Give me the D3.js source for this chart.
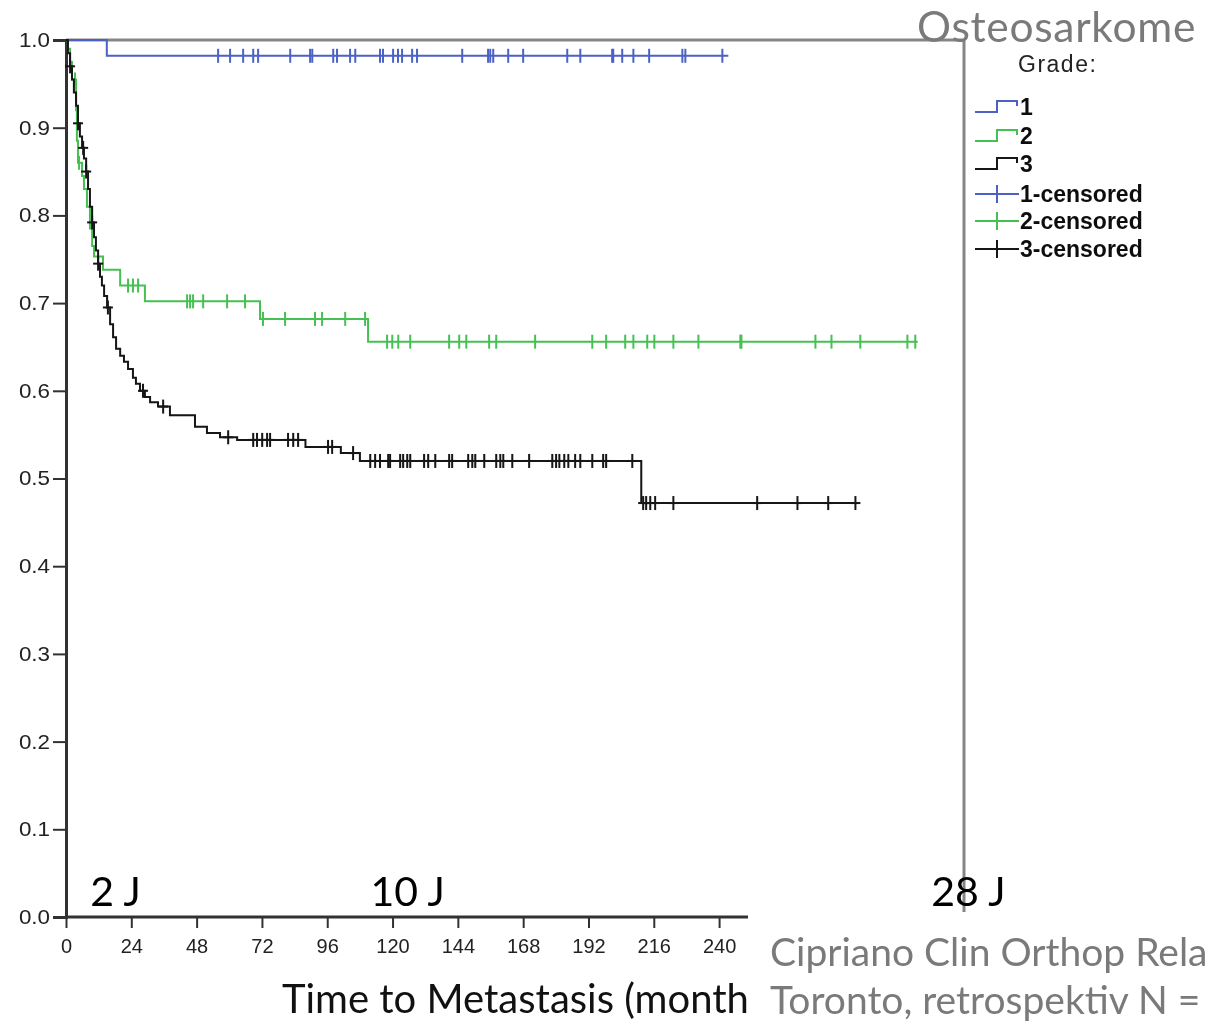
<!DOCTYPE html>
<html>
<head>
<meta charset="utf-8">
<script src="https://cdn.jsdelivr.net/npm/d3@7"></script>
<style>
  body { margin: 0; background: #fff; }
  svg { display: block; }
</style>
</head>
<body>
<svg id="chart" width="1207" height="1022"></svg>
<script>
// Kaplan–Meier curves: time to metastasis (months) by tumour grade.
// Each event list holds [month, survival after the drop].
const grade1Events = [[0, 1], [15, 0.982]];
const grade1Censored = [55.9, 60.3, 65.1, 68.8, 70.6, 82.4, 89.7, 90.5, 98.2, 99.6, 104.4, 106.3,
  115.4, 116.5, 120.2, 122, 123.5, 127.2, 129, 145.6, 155.1, 155.9, 157, 162.5, 168, 184.2, 189,
  200.7, 201.1, 204.4, 208.5, 214.3, 226.5, 227.6, 241.2];
const grade1LastTime = 243.4;

const grade2Events = [[0, 1], [0.7, 0.99], [1.5, 0.975], [2.2, 0.955], [3.7, 0.92], [4, 0.885],
  [4.4, 0.86], [5.9, 0.845], [6.6, 0.83], [7.7, 0.81], [8.8, 0.785], [9.6, 0.765], [10.3, 0.753],
  [13.6, 0.738], [19.9, 0.72], [29, 0.702], [71.3, 0.682], [111, 0.656]];
const grade2Censored = [3.3, 4.8, 22.8, 24.6, 26.5, 44.5, 45.6, 46.7, 50.4, 59.2, 65.8, 72.4, 80.5,
  91.5, 94.1, 102.6, 109.9, 118, 119.9, 122.1, 126.5, 140.8, 144.5, 147.1, 155.5, 158.1, 172.4,
  193.4, 198.5, 205.5, 208.5, 213.6, 216.2, 223.2, 232.4, 247.8, 248.2, 275.4, 281.3, 291.9,
  309.2, 312.1];
const grade2LastTime = 313;

const grade3Events = [[0, 1], [0.7, 0.985], [1.5, 0.97], [2.2, 0.955], [2.9, 0.94], [3.7, 0.925],
  [4.4, 0.905], [5.1, 0.89], [5.9, 0.877], [6.6, 0.865], [7.4, 0.85], [8.1, 0.83], [8.8, 0.81],
  [9.6, 0.792], [10.3, 0.775], [11, 0.76], [11.8, 0.745], [12.5, 0.73], [13.2, 0.72], [14, 0.708],
  [15.1, 0.695], [16.2, 0.676], [17.3, 0.661], [18.4, 0.648], [19.9, 0.64], [21.3, 0.633],
  [22.8, 0.625], [24.6, 0.615], [25.7, 0.608], [27.2, 0.6], [29, 0.593], [30.9, 0.587],
  [33.8, 0.582], [38.2, 0.572], [47.4, 0.559], [51.8, 0.552], [56.6, 0.547], [62.9, 0.544],
  [88, 0.536], [101, 0.529], [108, 0.52], [211.4, 0.472]];
const grade3Censored = [1.5, 4.4, 6.3, 7.4, 9.6, 11.8, 15.4, 28.3, 35.7, 59.6, 68.8, 70.2, 72.1,
  73.9, 75, 81.6, 83.5, 85.3, 96.3, 97.8, 105.5, 111.8, 113.6, 115.4, 118.4, 119.1, 122.8, 123.9,
  125.4, 126.5, 131.6, 133.1, 135.7, 140.8, 141.9, 147.8, 149.3, 150.4, 153.7, 158.1, 159.6,
  160.7, 164, 170.2, 178.7, 180.1, 181.3, 183.1, 184.6, 187.1, 189, 193.4, 197.4, 198.5, 208.1,
  212.1, 213.2, 214.7, 216.5, 223.2, 254, 268.8, 280.1, 290.1];
const grade3LastTime = 291.2;

const seriesNames = ["1", "2", "3"];
const seriesColors = ["#4b62c4", "#45c052", "#141414"];
const legendLabels = ["1", "2", "3", "1-censored", "2-censored", "3-censored"];
const xTicks = d3.range(0, 241, 24);
const yTicks = d3.range(0, 1.01, 0.1);
const axisTitle = "Time to Metastasis (months)";
const chartTitle = "Osteosarkome";
const legendTitle = "Grade:";
const yearMarks = [[24, "2 J"], [120, "10 J"], [336, "28 J"]];
const sourceLines = ["Cipriano Clin Orthop Rela", "Toronto, retrospektiv N ="];

const series = [
  { events: grade1Events, censored: grade1Censored, last: grade1LastTime },
  { events: grade2Events, censored: grade2Censored, last: grade2LastTime },
  { events: grade3Events, censored: grade3Censored, last: grade3LastTime }
];

const svg = d3.select("#chart");
const x = d3.scaleLinear().domain([0, 330]).range([66, 964]);
const y = d3.scaleLinear().domain([0, 1]).range([917, 40]);

// soft edges of the SPSS plot area
const defs = svg.append("defs");
defs.append("filter").attr("id", "soft")
  .append("feGaussianBlur").attr("stdDeviation", 0.7);

const plot = svg.append("g").attr("filter", "url(#soft)");

// frame (top and right)
plot.append("path")
  .attr("d", `M${x(0)},${y(1)}H${x(330)}V${y(0)}`)
  .attr("fill", "none").attr("stroke", "#858585").attr("stroke-width", 3);

// axes
const yAxis = d3.axisLeft(y).tickValues(yTicks).tickFormat(d3.format(".1f")).tickSize(13).tickPadding(2);
const xAxis = d3.axisBottom(x).tickValues(xTicks).tickFormat(d3.format("d")).tickSize(11).tickPadding(11);

const gy = plot.append("g").attr("transform", `translate(${x(0)},0)`).call(yAxis);
const gx = plot.append("g").attr("transform", `translate(0,${y(0)})`).call(xAxis);
gx.select(".domain").attr("d", `M${x(0)},0H748`);
[gy, gx].forEach(g => {
  g.select(".domain").attr("stroke", "#333").attr("stroke-width", 3);
  g.selectAll(".tick line").attr("stroke", "#333").attr("stroke-width", 2);
  g.selectAll(".tick text").attr("fill", "#222")
    .style("font-family", "'Liberation Sans', Arial, sans-serif").style("font-size", "20px");
});
gy.selectAll(".tick text").attr("transform", "scale(1.12,1)").attr("x", -16 / 1.12);

// step curves and censoring marks
const stepLine = d3.line().x(d => x(d[0])).y(d => y(d[1])).curve(d3.curveStepAfter);
function survivalAt(events, t) {
  let s = 1;
  for (const [et, es] of events) if (et <= t) s = es;
  return s;
}

series.forEach((s, i) => {
  const pts = s.events.concat([[s.last, s.events[s.events.length - 1][1]]]);
  plot.append("path").attr("d", stepLine(pts))
    .attr("fill", "none").attr("stroke", seriesColors[i]).attr("stroke-width", 2);
  const marks = plot.append("g").attr("stroke", seriesColors[i]).attr("stroke-width", 2);
  s.censored.forEach(t => {
    const cx = x(t), cy = y(survivalAt(s.events, t));
    marks.append("line").attr("x1", cx).attr("x2", cx).attr("y1", cy - 7).attr("y2", cy + 7);
    if (i === 2) marks.append("line").attr("x1", cx - 5).attr("x2", cx + 5).attr("y1", cy).attr("y2", cy);
  });
});

// legend
const legend = plot.append("g").style("font-family", "'Liberation Sans', Arial, sans-serif");
legend.append("text").attr("x", 1018).attr("y", 72).attr("fill", "#222")
  .style("font-size", "23px").style("letter-spacing", "1.5px").text(legendTitle);
const rowY = [107, 136, 164, 194, 221, 249];
legendLabels.forEach((lab, k) => {
  const cy = rowY[k];
  const col = seriesColors[k % 3];
  if (k < 3) {
    legend.append("path")
      .attr("d", `M975,${cy + 5}H997V${cy - 6}H1017V${cy - 1}`)
      .attr("fill", "none").attr("stroke", col).attr("stroke-width", 2);
  } else {
    legend.append("path")
      .attr("d", `M975,${cy}H1019M997,${cy - 9}V${cy + 9}`)
      .attr("fill", "none").attr("stroke", col).attr("stroke-width", 2);
  }
  legend.append("text").attr("x", 1020).attr("y", cy).attr("dy", "0.36em")
    .attr("fill", "#111").style("font-size", "23px").style("font-weight", "bold").text(lab);
});

// axis title
svg.append("text").attr("x", 282).attr("y", 1013).attr("fill", "#111")
  .style("font-family", "Lato, 'Open Sans', sans-serif").style("font-size", "40px")
  .text(axisTitle);

// panel for the source note, covering the right end of the axis
svg.append("rect").attr("x", 748).attr("y", 912).attr("width", 459).attr("height", 110).attr("fill", "#fff");

const overlay = svg.append("g").style("font-family", "Lato, 'Open Sans', sans-serif");
overlay.append("text").attr("x", 917).attr("y", 42).attr("fill", "#7a7a7a")
  .style("font-size", "42.5px").style("letter-spacing", "0.7px").text(chartTitle);
const yearShift = [-41, -22, -49];
yearMarks.forEach(([m, lab], k) => {
  overlay.append("text").attr("x", x(m) + yearShift[k]).attr("y", 906).attr("fill", "#000")
    .style("font-size", "41px").text(lab);
});
sourceLines.forEach((line, k) => {
  overlay.append("text").attr("x", 770).attr("y", 966 + k * 48).attr("fill", "#7a7a7a")
    .style("font-size", "39px").text(line);
});
</script>
</body>
</html>
